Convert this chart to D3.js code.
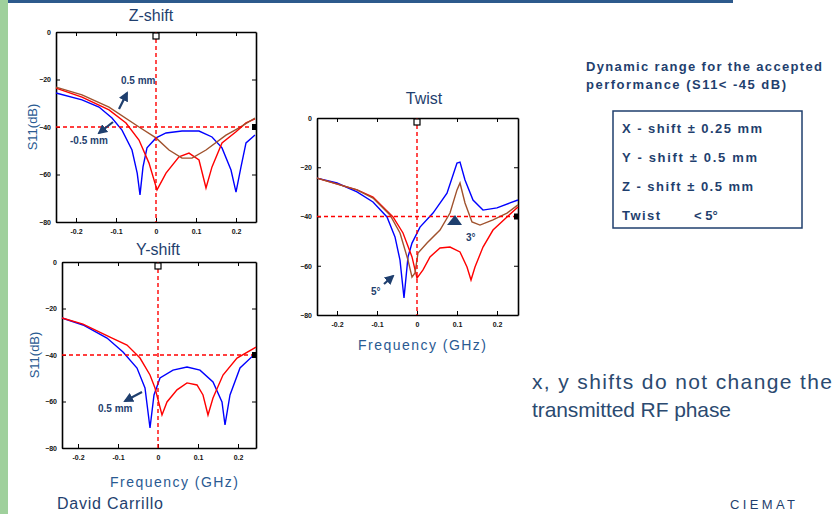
<!DOCTYPE html>
<html>
<head>
<meta charset="utf-8">
<script src="https://cdn.jsdelivr.net/npm/d3@7"></script>
<style>
  body { margin: 0; background: #fff; }
  svg { display: block; font-family: Arial, "Liberation Sans", sans-serif; }
</style>
</head>
<body>
<div id="chart"></div>
<script>
// tick values shared by the three panels
var freqTicks = [-0.2, -0.1, 0, 0.1, 0.2];
var freqTickLabels = ["-0.2", "-0.1", "0", "0.1", "0.2"];
var s11Ticks = [0, -20, -40, -60, -80];
var s11Limit = -40;

// Z-shift panel  [frequency offset, S11 dB]
var zBlue = [[-0.25,-25.7],[-0.185,-28.6],[-0.1425,-31.6],[-0.11,-36.2],[-0.085,-41.3],[-0.06,-49.7],[-0.047,-59.4],[-0.04,-68.6],[-0.0325,-56.8],[-0.0225,-48.8],[0,-44.6],[0.025,-42.5],[0.065,-41.7],[0.1075,-41.7],[0.14,-44.2],[0.165,-48.8],[0.1875,-58.1],[0.2,-67.4],[0.2125,-56.8],[0.225,-46.7],[0.2475,-43.4]];
var zRed = [[-0.25,-23.6],[-0.185,-27.4],[-0.1175,-32.8],[-0.075,-38.3],[-0.0425,-45.5],[-0.0175,-55.2],[0.0025,-66.5],[0.025,-59.4],[0.0575,-52.6],[0.0825,-51],[0.1075,-53.9],[0.125,-65.7],[0.14,-56.8],[0.165,-46.7],[0.2,-42],[0.225,-38.3],[0.2475,-36.6]];
var zBrown = [[-0.25,-23.2],[-0.185,-26.5],[-0.1175,-31.6],[-0.0425,-40],[0,-44.6],[0.0325,-49.7],[0.065,-53.1],[0.09,-53.1],[0.125,-49.7],[0.175,-43.4],[0.2075,-40.4],[0.2475,-36.2]];

// Y-shift panel
var yBlue = [[-0.24,-24.1],[-0.1875,-27.1],[-0.1275,-32.7],[-0.0875,-38.7],[-0.0525,-45.6],[-0.0325,-54.2],[-0.02,-71.4],[-0.01,-57.2],[0.005,-49.9],[0.0375,-46.5],[0.0725,-45.2],[0.105,-46.5],[0.1375,-51.6],[0.16,-60.2],[0.1675,-70.1],[0.18,-57.2],[0.205,-45.6],[0.245,-39.1]];
var yRed = [[-0.24,-24.1],[-0.1875,-26.7],[-0.12,-32.3],[-0.0775,-35.7],[-0.045,-41.3],[-0.02,-48.6],[-0.0075,-54.2],[0.01,-65.8],[0.0225,-60.2],[0.0475,-55],[0.0725,-52],[0.0975,-52.9],[0.1125,-57.2],[0.125,-65.8],[0.1375,-58.5],[0.1625,-48.6],[0.1975,-41.3],[0.245,-36.6]];

// Twist panel
var tBlue = [[-0.25,-24.4],[-0.2,-26.4],[-0.15,-30],[-0.11,-34.1],[-0.075,-40.2],[-0.055,-48.3],[-0.0425,-57.7],[-0.0325,-73.1],[-0.0225,-56.4],[-0.0125,-50.8],[0.0075,-44.3],[0.04,-38.6],[0.075,-30.5],[0.1,-18.3],[0.1075,-17.9],[0.12,-25.2],[0.14,-33.3],[0.165,-37.4],[0.2,-36.5],[0.2325,-34.5],[0.2525,-33.3]];
var tBrown = [[-0.25,-24.4],[-0.15,-29.2],[-0.11,-32.5],[-0.0675,-39.4],[-0.0425,-46.7],[-0.0225,-57.7],[-0.0125,-64.6],[-0.005,-62.9],[0.0025,-54.8],[0.025,-50.8],[0.0575,-45.5],[0.0825,-38.6],[0.1,-29.2],[0.1075,-26.4],[0.12,-34.5],[0.1375,-42.2],[0.1575,-43.5],[0.19,-41.4],[0.225,-38.6],[0.2525,-35.3]];
var tRed = [[-0.25,-24.4],[-0.15,-29.2],[-0.11,-32.1],[-0.06,-40.2],[-0.035,-46.7],[-0.0125,-56.4],[0,-65],[0.015,-61.7],[0.0325,-56.4],[0.0575,-52.8],[0.0825,-52.4],[0.1075,-54.4],[0.125,-60.5],[0.135,-65.8],[0.145,-60.5],[0.165,-52.4],[0.19,-45.5],[0.225,-40.2],[0.2525,-36.1]];

var tolerances = ["X - shift \u00b1 0.25 mm", "Y - shift  \u00b1 0.5 mm", "Z - shift \u00b1 0.5 mm", "Twist"];
var toleranceWidths = [140, 135, 131, 38];

var navy = "#1f3f6e";

var svg = d3.select("#chart").append("svg")
    .attr("width", 834).attr("height", 514);

var defs = svg.append("defs");
defs.append("marker")
    .attr("id", "head")
    .attr("viewBox", "0 0 10 10")
    .attr("refX", 8).attr("refY", 5)
    .attr("markerWidth", 4.5).attr("markerHeight", 4.5)
    .attr("orient", "auto")
  .append("path")
    .attr("d", "M0,0 L10,5 L0,10 z")
    .attr("fill", navy);

// slide decoration
svg.append("rect").attr("x", 0).attr("y", 0).attr("width", 8).attr("height", 514).attr("fill", "#9fd09c");
svg.append("rect").attr("x", 8).attr("y", 0).attr("width", 725).attr("height", 3).attr("fill", "#2d5a8c");

function panel(p) {
  var x = d3.scaleLinear().domain(p.xDomain).range([p.left, p.right]);
  var y = d3.scaleLinear().domain([-80, 0]).range([p.bottom, p.top]);
  var g = svg.append("g");

  // axes: labelled bottom / left, mirrored ticks top / right
  g.append("g")
      .attr("transform", "translate(0," + p.bottom + ")")
      .call(d3.axisBottom(x).tickValues(freqTicks).tickSizeInner(-4).tickSizeOuter(0).tickPadding(7)
            .tickFormat(function(d, i) { return freqTickLabels[i]; }));
  g.append("g")
      .attr("transform", "translate(" + p.left + ",0)")
      .call(d3.axisLeft(y).tickValues(s11Ticks).tickSizeInner(-4).tickSizeOuter(0).tickPadding(5));
  g.append("g")
      .attr("transform", "translate(0," + p.top + ")")
      .call(d3.axisTop(x).tickValues(freqTicks).tickSizeInner(-4).tickSizeOuter(0).tickFormat(""));
  g.append("g")
      .attr("transform", "translate(" + p.right + ",0)")
      .call(d3.axisRight(y).tickValues(s11Ticks).tickSizeInner(-4).tickSizeOuter(0).tickFormat(""));

  g.selectAll(".domain").attr("stroke", "#000").attr("stroke-width", 1.6);
  g.selectAll(".tick line").attr("stroke", "#000");
  g.selectAll(".tick text").attr("font-size", "7px").attr("font-weight", "bold").attr("fill", "#111");

  // curves
  var line = d3.line()
      .x(function(d) { return x(d[0]); })
      .y(function(d) { return y(d[1]); });
  p.series.forEach(function(s) {
    g.append("path")
        .datum(s.data)
        .attr("d", line)
        .attr("fill", "none")
        .attr("stroke", s.color)
        .attr("stroke-width", 1.4);
  });

  // reference lines
  g.append("line")
      .attr("x1", x(0)).attr("x2", x(0))
      .attr("y1", y(0)).attr("y2", y(-80))
      .attr("stroke", "#ff0000").attr("stroke-width", 1.4).attr("stroke-dasharray", "4,3");
  g.append("line")
      .attr("x1", p.left).attr("x2", p.right)
      .attr("y1", y(s11Limit)).attr("y2", y(s11Limit))
      .attr("stroke", "#ff0000").attr("stroke-width", 1.4).attr("stroke-dasharray", "4,3");
  g.append("rect")
      .attr("x", x(0) - 3).attr("y", y(0) + 1).attr("width", 6).attr("height", 6)
      .attr("fill", "#fff").attr("stroke", "#000").attr("stroke-width", 1.2);
  g.append("rect")
      .attr("x", p.right - 4).attr("y", y(s11Limit) - 3).attr("width", 5).attr("height", 6)
      .attr("fill", "#000");

  // labels
  g.append("text")
      .attr("x", p.titleX).attr("y", p.titleY)
      .attr("text-anchor", "middle")
      .attr("font-size", "16px").attr("fill", navy)
      .text(p.title);
  if (p.ylabel) {
    g.append("text")
        .attr("transform", "translate(" + p.ylabelX + "," + ((p.top + p.bottom) / 2) + ") rotate(-90)")
        .attr("text-anchor", "middle")
        .attr("font-size", "13px").attr("fill", "#2a5a92")
        .text("S11(dB)");
  }
  if (p.xlabel) {
    g.append("text")
        .attr("x", p.xlabelX).attr("y", p.xlabelY)
        .attr("text-anchor", "middle")
        .attr("font-size", "14px").attr("fill", "#2a5a92")
        .attr("textLength", 128)
        .text("Frequency (GHz)");
  }
  return { x: x, y: y, g: g };
}

function note(g, text, tx, ty, x1, y1, x2, y2) {
  g.append("line")
      .attr("x1", x1).attr("y1", y1).attr("x2", x2).attr("y2", y2)
      .attr("stroke", navy).attr("stroke-width", 2.2)
      .attr("marker-end", "url(#head)");
  g.append("text")
      .attr("x", tx).attr("y", ty)
      .attr("font-size", "10px").attr("font-weight", "bold").attr("fill", navy)
      .text(text);
}

var zp = panel({
  left: 56, right: 256, top: 32, bottom: 222, xDomain: [-0.25, 0.25],
  title: "Z-shift", titleX: 151, titleY: 21,
  ylabel: true, ylabelX: 37,
  series: [{ data: zBlue, color: "#0000ff" }, { data: zRed, color: "#ff0000" }, { data: zBrown, color: "#a0522d" }]
});
note(zp.g, "0.5 mm", 121, 84, 119, 109, 127, 93);
note(zp.g, "-0.5 mm", 70, 144, 113, 122, 99, 133);

var yp = panel({
  left: 62, right: 256, top: 262, bottom: 448, xDomain: [-0.24, 0.245],
  title: "Y-shift", titleX: 158, titleY: 255,
  ylabel: true, ylabelX: 39,
  xlabel: true, xlabelX: 174, xlabelY: 487,
  series: [{ data: yBlue, color: "#0000ff" }, { data: yRed, color: "#ff0000" }]
});
note(yp.g, "0.5 mm", 98, 412, 142, 392, 125, 401);

var tp = panel({
  left: 317, right: 518, top: 118, bottom: 315, xDomain: [-0.25, 0.2525],
  title: "Twist", titleX: 424, titleY: 104,
  ylabel: false,
  xlabel: true, xlabelX: 422, xlabelY: 350,
  series: [{ data: tBlue, color: "#0000ff" }, { data: tRed, color: "#ff0000" }, { data: tBrown, color: "#a0522d" }]
});
note(tp.g, "5\u00b0", 371, 295, 384, 284, 393, 276);
tp.g.append("path")
    .attr("d", "M447,225 L455,215 L462,225 z")
    .attr("fill", navy);
tp.g.append("text")
    .attr("x", 466).attr("y", 241)
    .attr("font-size", "10px").attr("font-weight", "bold").attr("fill", navy)
    .text("3\u00b0");

// side notes
svg.append("text").attr("x", 586).attr("y", 71)
    .attr("font-size", "13px").attr("font-weight", "bold").attr("fill", navy).attr("textLength", 236)
    .text("Dynamic range for the accepted");
svg.append("text").attr("x", 586).attr("y", 89)
    .attr("font-size", "13px").attr("font-weight", "bold").attr("fill", navy).attr("textLength", 200)
    .text("performance (S11< -45 dB)");

svg.append("rect").attr("x", 613).attr("y", 111).attr("width", 189).attr("height", 117)
    .attr("fill", "none").attr("stroke", navy).attr("stroke-width", 1.5);
svg.selectAll(".tol")
    .data(tolerances)
    .enter()
    .append("text")
    .attr("class", "tol")
    .attr("x", 622)
    .attr("y", function(d, i) { return 133 + i * 29; })
    .attr("font-size", "13px").attr("font-weight", "bold").attr("fill", navy)
    .attr("textLength", function(d, i) { return toleranceWidths[i]; })
    .text(function(d) { return d; });
svg.append("text").attr("x", 694).attr("y", 220)
    .attr("font-size", "13px").attr("font-weight", "bold").attr("fill", navy)
    .text("< 5\u00b0");

svg.append("text").attr("x", 532).attr("y", 389)
    .attr("font-size", "21px").attr("fill", "#2b4a70").attr("textLength", 300)
    .text("x, y shifts do not change the");
svg.append("text").attr("x", 532).attr("y", 417)
    .attr("font-size", "21px").attr("fill", "#2b4a70").attr("textLength", 199)
    .text("transmitted RF phase");

svg.append("text").attr("x", 57).attr("y", 509)
    .attr("font-size", "16px").attr("fill", navy).attr("textLength", 106)
    .text("David Carrillo");
svg.append("text").attr("x", 730).attr("y", 509)
    .attr("font-size", "13px").attr("fill", navy).attr("textLength", 65)
    .text("CIEMAT");
</script>
</body>
</html>
